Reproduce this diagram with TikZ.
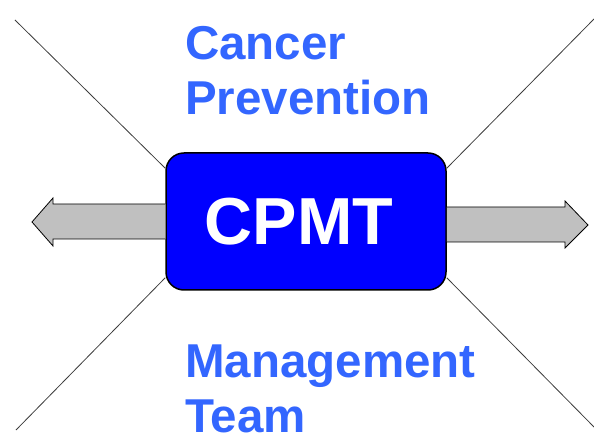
\documentclass[tikz,border=0pt]{standalone}
\usepackage{fontspec}
\setmainfont{Liberation Sans}
\usetikzlibrary{positioning,calc,backgrounds}
\definecolor{boxblue}{RGB}{0,0,255}
\definecolor{titleblue}{RGB}{51,102,255}
\definecolor{arrowgray}{RGB}{192,192,192}
\definecolor{raygray}{RGB}{60,60,60}
\tikzset{
  teambox/.style={draw=black,line width=1.5pt,fill=boxblue,rounded corners=18pt,
    minimum width=280pt,minimum height=137pt,inner sep=0pt,text=white,
    font=\bfseries\fontsize{66.5}{70}\selectfont},
  title/.style={text=titleblue,align=left,inner sep=0pt,
    font=\bfseries\fontsize{47.5}{55}\selectfont},
  wingarrow/.style={draw=black,line width=0.8pt,fill=arrowgray,line join=miter},
  ray/.style={draw=raygray,line width=0.8pt}
}
\begin{document}
\begin{tikzpicture}[x=1pt,y=-1pt]
            \useasboundingbox (0,0) rectangle (594,435);
            \coordinate (nw) at (15,20);
            \coordinate (ne) at (594,19);
            \coordinate (sw) at (16,430);
            \coordinate (se) at (594,427);
            \coordinate (lefttip) at (32,222);
            \coordinate (righttip) at (588,225);
            \node [teambox] (cpmt) at (306,221.5) {CPMT\hspace*{14pt}};
            \begin{scope}[on background layer]
              \draw [ray] (nw) -- ([yshift=-16pt]cpmt.north west);
              \draw [ray] (ne) -- ([yshift=-16pt]cpmt.north east);
              \draw [ray] (sw) -- ([yshift=13pt]cpmt.south west);
              \draw [ray] (se) -- ([yshift=13pt]cpmt.south east);
            \end{scope}
            \draw [wingarrow] (cpmt.west |- 0,204) -- (53,204) -- (53,198) -- (lefttip)
              -- (53,246) -- (53,239) -- (cpmt.west |- 0,239);
            \draw [wingarrow] (cpmt.east |- 0,207) -- (565,207) -- (565,201) -- (righttip)
              -- (565,248) -- (565,242) -- (cpmt.east |- 0,242);
            \node [title,anchor=base west] (prevention) at (185,115) {Cancer\\Prevention};
            \node [title,anchor=base west] (team) at (185,432) {Management\\Team};
         \end{tikzpicture}
\end{document}
